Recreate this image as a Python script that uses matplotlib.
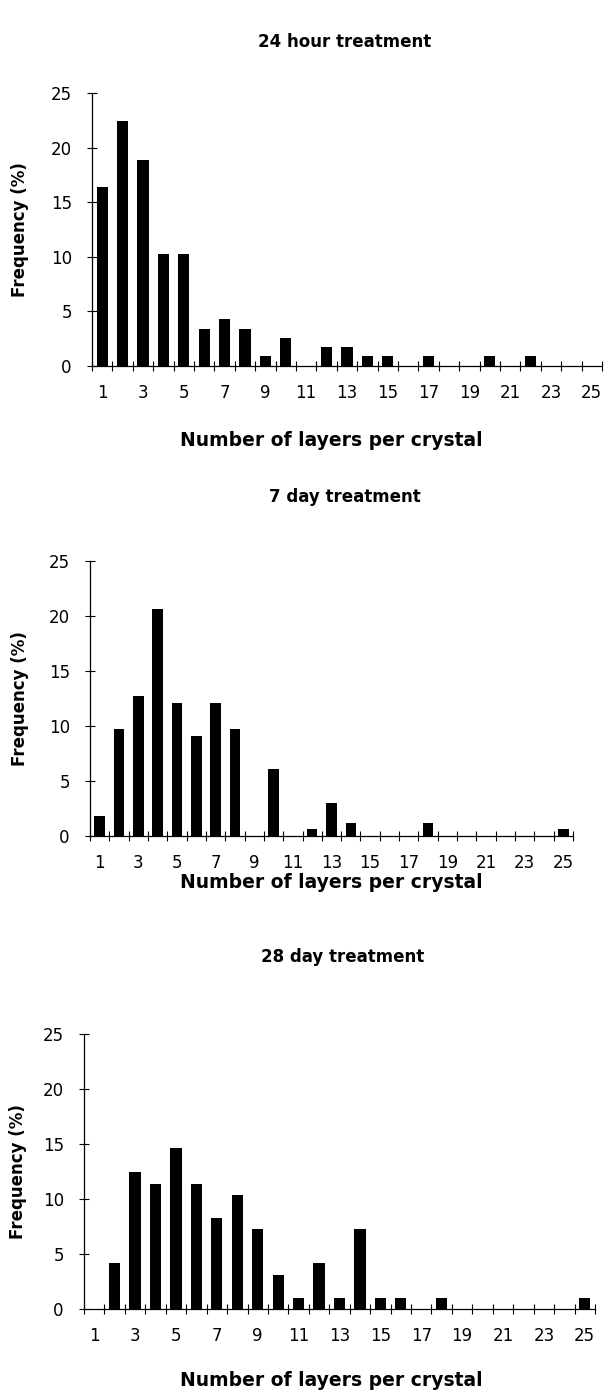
import numpy as np
import matplotlib
matplotlib.use("Agg")
from matplotlib import pyplot as plt

# ==============================
# Data
# ==============================
layers = np.arange(1, 26)

freq_24h = [16.4, 22.4, 18.9, 10.3, 10.3, 3.4, 4.3, 3.4, 0.9, 2.6,
            0, 1.7, 1.7, 0.9, 0.9, 0, 0.9, 0, 0, 0.9,
            0, 0.9, 0, 0, 0]
freq_7d = [1.8, 9.7, 12.7, 20.6, 12.1, 9.1, 12.1, 9.7, 0, 6.1,
           0, 0.6, 3.0, 1.2, 0, 0, 0, 1.2, 0, 0,
           0, 0, 0, 0, 0.6]
freq_28d = [0, 4.2, 12.5, 11.4, 14.6, 11.4, 8.3, 10.4, 7.3, 3.1,
            1.0, 4.2, 1.0, 7.3, 1.0, 1.0, 0, 1.0, 0, 0,
            0, 0, 0, 0, 1.0]

titles = ["24 hour treatment", "7 day treatment", "28 day treatment"]
series = [freq_24h, freq_7d, freq_28d]
y_ticks = [0, 5, 10, 15, 20, 25]
x_labels = [1, 3, 5, 7, 9, 11, 13, 15, 17, 19, 21, 23, 25]

# ==============================
# Layout (pixels of the 606x1390 picture)
# ==============================
W, H = 606, 1390
# left, right, top, bottom of each axes in pixels
boxes = [(92, 602, 93, 366), (90, 573, 561, 836), (84, 595, 1034, 1309)]
title_pos = [(345, 42), (345, 497), (343, 957)]
xlabel_pos = [(331, 440), (331, 882), (331, 1381)]
ylabel_x = [20, 20, 18]

plt.rcParams['font.family'] = ['DejaVu Sans']
fig = plt.figure(figsize=(W / 100, H / 100), dpi=100)

for vals, title, box, tp, xp, yx in zip(series, titles, boxes, title_pos,
                                        xlabel_pos, ylabel_x):
    l, r, t, b = box
    ax = fig.add_axes([l / W, 1 - b / H, (r - l) / W, (b - t) / H])
    ax.bar(layers, vals, width=0.55, color='black')

    ax.set_xlim(0.5, 25.5)
    ax.set_ylim(0, 25)
    for s in ['top', 'right']:
        ax.spines[s].set_visible(False)
    for s in ['left', 'bottom']:
        ax.spines[s].set_linewidth(0.9)

    # category boundaries as ticks, labels at odd centres
    ax.set_xticks(np.arange(0.5, 26, 1))
    ax.set_xticklabels([])
    ax.set_xticks(x_labels, [str(v) for v in x_labels], minor=True)
    ax.tick_params(axis='x', which='major', direction='inout', length=7, width=0.8)
    ax.tick_params(axis='x', which='minor', length=0, labelsize=12, pad=13)

    ax.set_yticks(y_ticks)
    ax.tick_params(axis='y', direction='inout', length=7, width=0.8,
                   labelsize=12, pad=11)

    fig.text(yx / W, 1 - ((t + b) / 2) / H, "Frequency (%)",
             rotation=90, ha='center', va='center', fontsize=12,
             fontweight='bold')
    fig.text(tp[0] / W, 1 - tp[1] / H, title, ha='center', va='center',
             fontsize=12, fontweight='bold')
    fig.text(xp[0] / W, 1 - xp[1] / H, "Number of layers per crystal",
             ha='center', va='center', fontsize=13.5, fontweight='bold')

plt.savefig("out.png", dpi=100)
